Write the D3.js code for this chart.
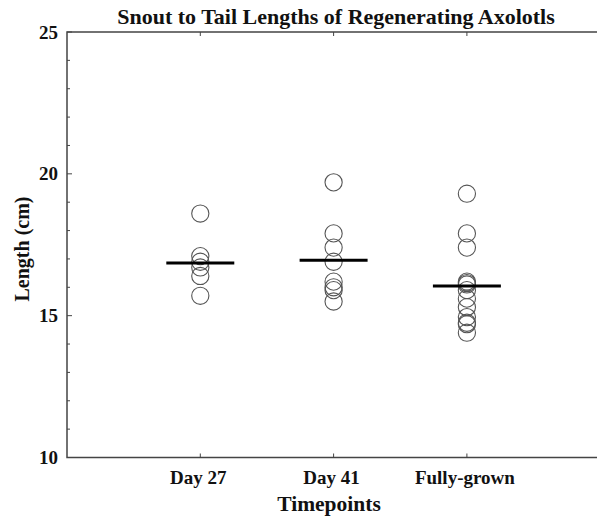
<!DOCTYPE html>
<html>
<head>
<meta charset="utf-8">
<script src="https://cdn.jsdelivr.net/npm/d3@7"></script>
<style>
  body { margin: 0; background: #fff; }
  text { font-family: "Liberation Serif", "Times New Roman", serif; font-weight: bold; fill: #111; }
</style>
</head>
<body>
<script>
// values
var categories = ["Day 27", "Day 41", "Fully-grown"];
var day27 = [18.6, 17.1, 16.9, 16.7, 16.4, 15.7];
var day41 = [19.7, 17.9, 17.4, 16.9, 16.2, 16.0, 15.9, 15.5];
var fullyGrown = [19.3, 17.9, 17.4, 16.2, 16.15, 16.1, 15.9, 15.6, 15.3, 14.95, 14.75, 14.7, 14.4];
var means = [16.86, 16.95, 16.05];
var yTicks = [10, 15, 20, 25];

var groups = [day27, day41, fullyGrown];

var width = 597, height = 519;
var margin = {left: 67, top: 32, bottom: 62};

var svg = d3.select('body').append('svg')
    .attr('width', width)
    .attr('height', height);

var x = d3.scaleLinear().domain([0, 4]).range([margin.left, margin.left + 4 * 133.3]);
var y = d3.scaleLinear().domain([10, 25]).range([height - margin.bottom + 0.5, margin.top]);

var axisColor = '#444';
var x0 = x(0), x1 = x(4), yTop = y(25), yBot = y(10);

// box (right side falls outside the window)
svg.append('path')
    .attr('d', 'M' + x1 + ',' + yTop + 'H' + x0 + 'V' + yBot + 'H' + x1)
    .attr('fill', 'none')
    .attr('stroke', axisColor)
    .attr('stroke-width', 1.5);

// y ticks, inward
var minor = d3.range(10, 25.01, 1);
svg.selectAll('.ytick').data(minor).enter().append('line')
    .attr('x1', x0).attr('x2', function(d) { return x0 + (d % 5 === 0 ? 5 : 3); })
    .attr('y1', function(d) { return y(d); }).attr('y2', function(d) { return y(d); })
    .attr('stroke', axisColor).attr('stroke-width', 1);

svg.selectAll('.ylab').data(yTicks).enter().append('text')
    .attr('x', x0 - 9)
    .attr('y', function(d) { return y(d); })
    .attr('dy', '0.35em')
    .attr('text-anchor', 'end')
    .style('font-size', '19px')
    .text(function(d) { return d; });

// x ticks top and bottom, inward
categories.forEach(function(c, i) {
    var cx = x(i + 1);
    svg.append('line').attr('x1', cx).attr('x2', cx).attr('y1', yBot).attr('y2', yBot - 4)
        .attr('stroke', axisColor);
    svg.append('line').attr('x1', cx).attr('x2', cx).attr('y1', yTop).attr('y2', yTop + 4)
        .attr('stroke', axisColor);
    svg.append('text')
        .attr('x', cx - 2)
        .attr('y', yBot + 26)
        .attr('text-anchor', 'middle')
        .style('font-size', '19px')
        .text(c);
});

// points
groups.forEach(function(vals, i) {
    svg.selectAll('.pt' + i).data(vals).enter().append('circle')
        .attr('cx', x(i + 1))
        .attr('cy', function(d) { return y(d); })
        .attr('r', 8.6)
        .attr('fill', 'none')
        .attr('stroke', '#555')
        .attr('stroke-width', 1.1);
});

// mean bars
svg.selectAll('.mean').data(means).enter().append('line')
    .attr('x1', function(d, i) { return x(i + 1 - 0.255); })
    .attr('x2', function(d, i) { return x(i + 1 + 0.255); })
    .attr('y1', function(d) { return y(d); })
    .attr('y2', function(d) { return y(d); })
    .attr('stroke', '#000')
    .attr('stroke-width', 3);

// titles
svg.append('text')
    .attr('x', 336).attr('y', 24)
    .attr('text-anchor', 'middle')
    .style('font-size', '22px')
    .text('Snout to Tail Lengths of Regenerating Axolotls');

svg.append('text')
    .attr('x', 329).attr('y', 511)
    .attr('text-anchor', 'middle')
    .style('font-size', '21.5px')
    .text('Timepoints');

svg.append('text')
    .attr('transform', 'translate(29,' + 249 + ') rotate(-90)')
    .attr('text-anchor', 'middle')
    .style('font-size', '20px')
    .text('Length (cm)');
</script>
</body>
</html>
